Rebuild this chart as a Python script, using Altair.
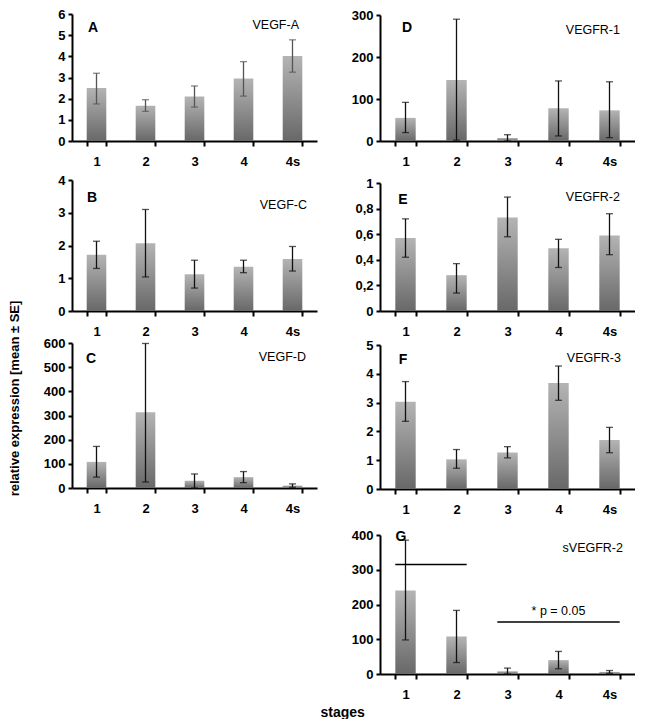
import altair as alt
import pandas as pd

stages = ["1", "2", "3", "4", "4s"]

# Panel A: VEGF-A
vegf_a_mean = [2.5, 1.67, 2.1, 2.95, 4.02]
vegf_a_low = [1.75, 1.4, 1.6, 2.12, 3.25]
vegf_a_high = [3.2, 1.95, 2.6, 3.75, 4.78]

# Panel B: VEGF-C
vegf_c_mean = [1.72, 2.07, 1.12, 1.35, 1.59]
vegf_c_low = [1.3, 1.04, 0.7, 1.17, 1.22]
vegf_c_high = [2.13, 3.1, 1.55, 1.55, 1.97]

# Panel C: VEGF-D
vegf_d_mean = [108, 313, 30, 45, 10]
vegf_d_low = [45, 25, 0, 22, 3]
vegf_d_high = [172, 598, 58, 68, 17]

# Panel D: VEGFR-1
vegfr1_mean = [55, 145, 7, 78, 73]
vegfr1_low = [20, 2, 0, 12, 8]
vegfr1_high = [92, 290, 15, 143, 141]

# Panel E: VEGFR-2
vegfr2_mean = [0.57, 0.28, 0.73, 0.49, 0.59]
vegfr2_low = [0.42, 0.14, 0.58, 0.34, 0.44]
vegfr2_high = [0.72, 0.37, 0.89, 0.56, 0.76]

# Panel F: VEGFR-3
vegfr3_mean = [3.03, 1.03, 1.27, 3.68, 1.7]
vegfr3_low = [2.35, 0.72, 1.08, 3.08, 1.26]
vegfr3_high = [3.73, 1.37, 1.47, 4.27, 2.14]

# Panel G: sVEGFR-2
svegfr2_mean = [240, 108, 8, 40, 6]
svegfr2_low = [98, 33, 0, 15, 2]
svegfr2_high = [385, 183, 17, 65, 10]

# Significance brackets in G
sig_start = ["1", "3"]
sig_end = ["2", "4s"]
sig_value = [315, 150]
p_text = ["* p = 0.05"]
p_stage = ["4"]
p_value = [180]

FONT = "Liberation Sans"

bar_fill = alt.Gradient(
    gradient="linear",
    stops=[alt.GradientStop(offset=0, color="#b4b4b4"),
           alt.GradientStop(offset=1, color="#686868")],
    x1=0, x2=0, y1=0, y2=1,
)


def panel(letter, gene, mean, low, high, ymax, yvals, w, h, err_color,
          letter_pos, gene_pos, top=0, label_expr=None, ytitle=None,
          xtitle=None, extra=None):
    df = pd.DataFrame({"stage": stages, "mean": mean, "low": low, "high": high})
    H = h + top
    xscale = alt.Scale(paddingInner=0.6, paddingOuter=0.3)
    yscale = alt.Scale(domain=[0, ymax], nice=False, range=[H, top])

    xaxis_kw = dict(labelAngle=0, tickBand="extent", tickSize=5, labelPadding=9,
                    grid=False)
    if xtitle:
        xaxis_kw.update(title=xtitle, titleX=-60, titleY=38, titleAlign="left",
                        titleBaseline="middle", titleFont=FONT,
                        titleFontSize=14, titleFontWeight="bold")
    else:
        xaxis_kw.update(title=None)
    yaxis_kw = dict(values=yvals, tickSize=4, labelPadding=3, grid=False)
    if label_expr:
        yaxis_kw.update(labelExpr=label_expr)
    if ytitle:
        yaxis_kw.update(title=ytitle, titleX=-58, titleY=55 + top, titleAngle=-90,
                        titleAlign="center", titleBaseline="middle",
                        titleFont=FONT, titleFontSize=13, titleFontWeight="bold")
    else:
        yaxis_kw.update(title=None)

    xaxis = alt.Axis(**xaxis_kw)
    yaxis = alt.Axis(**yaxis_kw)

    def X(field):
        return alt.X(field, type="nominal", sort=stages, scale=xscale, axis=xaxis)

    def Y(field):
        return alt.Y(field, type="quantitative", scale=yscale, axis=yaxis)

    base = alt.Chart(df)
    bars = base.mark_bar(color=bar_fill).encode(x=X("stage"), y=Y("mean"))
    err = base.mark_rule(color=err_color, strokeWidth=1.3).encode(
        x=X("stage"), y=Y("low"), y2="high")
    cap_lo = base.mark_tick(color=err_color, thickness=1.3, size=7).encode(
        x=X("stage"), y=Y("low"))
    cap_hi = base.mark_tick(color=err_color, thickness=1.3, size=7).encode(
        x=X("stage"), y=Y("high"))

    let_df = pd.DataFrame({"t": [letter]})
    let_txt = alt.Chart(let_df).mark_text(
        font=FONT, fontSize=14, fontWeight="bold", color="black",
        align="center", baseline="middle").encode(
        x=alt.value(letter_pos[0]), y=alt.value(letter_pos[1] + top), text="t:N")
    gene_df = pd.DataFrame({"t": [gene]})
    gene_txt = alt.Chart(gene_df).mark_text(
        font=FONT, fontSize=12.5, color="black",
        align="right", baseline="middle").encode(
        x=alt.value(w - gene_pos[0]), y=alt.value(gene_pos[1] + top), text="t:N")

    layers = [bars, err, cap_lo, cap_hi, let_txt, gene_txt]
    if extra is not None:
        layers += extra(X, Y)
    return alt.layer(*layers).properties(width=w, height=H)


def g_extra(X, Y):
    sig_df = pd.DataFrame({"s": sig_start, "e": sig_end, "v": sig_value})
    xs = X("s")
    xs.bandPosition = 0
    sig = alt.Chart(sig_df).mark_rule(color="black", strokeWidth=1.5).encode(
        x=xs,
        x2=alt.X2("e", bandPosition=1),
        y=Y("v"),
    )
    p_df = pd.DataFrame({"t": p_text, "s": p_stage, "v": p_value})
    ptxt = alt.Chart(p_df).mark_text(
        font=FONT, fontSize=12.5, color="black", baseline="middle").encode(
        x=X("s"),
        y=Y("v"),
        text="t:N",
    )
    return [sig, ptxt]


W1, W2 = 245, 255
E_EXPR = ("datum.value == 0 ? '0' : datum.value == 1 ? '1' : "
          "replace(format(datum.value, '.1f'), '.', ',')")

pA = panel("A", "VEGF-A", vegf_a_mean, vegf_a_low, vegf_a_high, 6,
           [0, 1, 2, 3, 4, 5, 6], W1, 127, "#555555", (21, 14), (18, 11))
pB = panel("B", "VEGF-C", vegf_c_mean, vegf_c_low, vegf_c_high, 4,
           [0, 1, 2, 3, 4], W1, 131, "#111111", (20, 18), (10, 25), top=7)
pC = panel("C", "VEGF-D", vegf_d_mean, vegf_d_low, vegf_d_high, 600,
           [0, 100, 200, 300, 400, 500, 600], W1, 145, "#111111", (19, 16), (11, 14),
           ytitle="relative expression [mean ± SE]")
pD = panel("D", "VEGFR-1", vegfr1_mean, vegfr1_low, vegfr1_high, 300,
           [0, 100, 200, 300], W2, 126, "#111111", (27, 13), (15, 15), top=1)
pE = panel("E", "VEGFR-2", vegfr2_mean, vegfr2_low, vegfr2_high, 1,
           [0, 0.2, 0.4, 0.6, 0.8, 1], W2, 128, "#111111", (23, 17), (15, 14),
           top=8, label_expr=E_EXPR)
pF = panel("F", "VEGFR-3", vegfr3_mean, vegfr3_low, vegfr3_high, 5,
           [0, 1, 2, 3, 4, 5], W2, 144, "#111111", (23, 15), (14, 13))
pG = panel("G", "sVEGFR-2", svegfr2_mean, svegfr2_low, svegfr2_high, 400,
           [0, 100, 200, 300, 400], W2, 139, "#111111", (21, 2), (12, 13),
           top=12, xtitle="stages", extra=g_extra)

col1 = alt.vconcat(pA, pB, pC, spacing=32, bounds="flush")
col2 = alt.vconcat(pD, pE, pF, pG, spacing=34, bounds="flush")

chart = alt.hconcat(col1, col2, spacing=3).properties(
    padding=0
).configure_view(stroke=None).configure_axis(
    domainColor="black", domainWidth=2, tickColor="black", tickWidth=2,
    labelFont=FONT, labelFontSize=13, labelFontWeight="bold", labelColor="black",
)

chart.save("out.html", embed_options={"renderer": "svg", "actions": False})
